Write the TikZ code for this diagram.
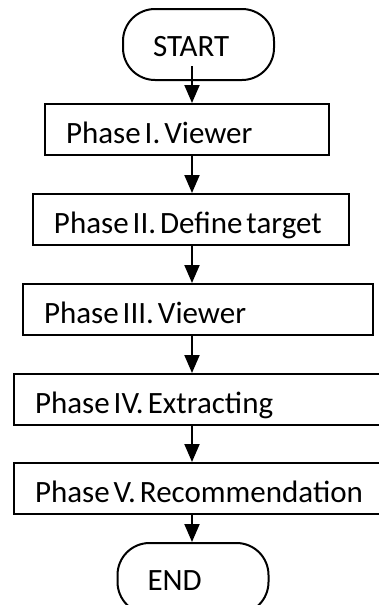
\documentclass[tikz,border=0pt]{standalone}
\usepackage{fontspec}
\setmainfont{Carlito}
\usetikzlibrary{arrows.meta}

\tikzset{
    oneline/.style={execute at begin node={\hbox to\hsize\bgroup\spaceskip=2pt\xspaceskip=2.5pt\relax},
        execute at end node={\hss\egroup}},
    term/.style={draw, rounded corners=16pt, minimum height=35.5pt, inner xsep=15pt,
        text width=45.5pt, oneline, text height=12pt, text depth=0pt},
    phase/.style={draw, rectangle, anchor=north west, minimum height=25.5pt, inner xsep=10.5pt,
        text width=#1, oneline, text height=14pt, text depth=0pt},
    flow/.style={-{Triangle[length=9pt,width=7.5pt]}}
}

\begin{document}
\begin{tikzpicture}[x=0.5pt, y=-0.5pt, line width=1pt, font=\fontsize{15.5pt}{18pt}\selectfont]
    \useasboundingbox (0,0) rectangle (379,605);

    % Start and end
    \node[term] (start) at (198.5,44.5) {START};
    \node[term] (end) at (193,578.5) {END};

    % Phases
    \node[phase=121pt] (p1) at (44,103) {Phase I. Viewer};
    \node[phase=137pt] (p2) at (32,193) {Phase II. Define target};
    \node[phase=154pt] (p3) at (22,283) {Phase III. Viewer};
    \node[phase=169pt] (p4) at (13,373) {Phase IV. Extracting};
    \node[phase=169pt] (p5) at (13,462) {Phase V. Recommendation};

    % Arrows down the middle
    \coordinate (axis) at (192,0);
    \draw[flow] ([yshift=7.5pt]start.south -| axis) -- (p1.north -| axis);
    \draw[flow] (p1.south -| axis) -- (p2.north -| axis);
    \draw[flow] (p2.south -| axis) -- (p3.north -| axis);
    \draw[flow] (p3.south -| axis) -- (p4.north -| axis);
    \draw[flow] (p4.south -| axis) -- (p5.north -| axis);
    \draw[flow] (p5.south -| axis) -- (end.north -| axis);
\end{tikzpicture}
\end{document}
